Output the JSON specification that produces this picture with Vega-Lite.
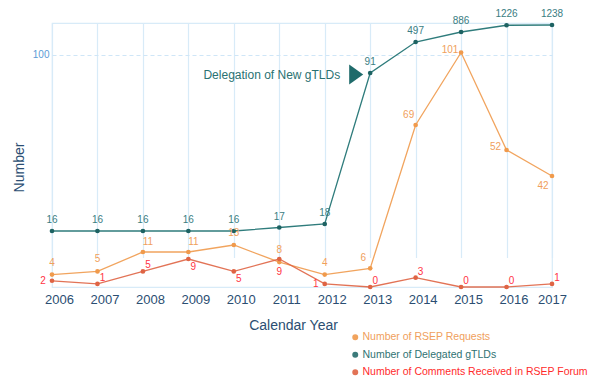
{
  "$schema": "https://vega.github.io/schema/vega-lite/v6.json",
  "autosize": "none",
  "width": 500,
  "height": 264,
  "padding": {"left": 52, "top": 23, "right": 48, "bottom": 95},
  "config": {
    "font": "Liberation Sans, Arial, sans-serif",
    "view": {"stroke": "#d8ebf8", "strokeWidth": 1.2}
  },
  "datasets": {
    "series": [
      {"year": 2006, "series": "Number of RSEP Requests", "value": 4},
      {"year": 2007, "series": "Number of RSEP Requests", "value": 5},
      {"year": 2008, "series": "Number of RSEP Requests", "value": 11},
      {"year": 2009, "series": "Number of RSEP Requests", "value": 11},
      {"year": 2010, "series": "Number of RSEP Requests", "value": 13},
      {"year": 2011, "series": "Number of RSEP Requests", "value": 8},
      {"year": 2012, "series": "Number of RSEP Requests", "value": 4},
      {"year": 2013, "series": "Number of RSEP Requests", "value": 6},
      {"year": 2014, "series": "Number of RSEP Requests", "value": 69},
      {"year": 2015, "series": "Number of RSEP Requests", "value": 101},
      {"year": 2016, "series": "Number of RSEP Requests", "value": 52},
      {"year": 2017, "series": "Number of RSEP Requests", "value": 42},
      {"year": 2006, "series": "Number of Delegated gTLDs", "value": 16},
      {"year": 2007, "series": "Number of Delegated gTLDs", "value": 16},
      {"year": 2008, "series": "Number of Delegated gTLDs", "value": 16},
      {"year": 2009, "series": "Number of Delegated gTLDs", "value": 16},
      {"year": 2010, "series": "Number of Delegated gTLDs", "value": 16},
      {"year": 2011, "series": "Number of Delegated gTLDs", "value": 17},
      {"year": 2012, "series": "Number of Delegated gTLDs", "value": 18},
      {"year": 2013, "series": "Number of Delegated gTLDs", "value": 91},
      {"year": 2014, "series": "Number of Delegated gTLDs", "value": 497},
      {"year": 2015, "series": "Number of Delegated gTLDs", "value": 886},
      {"year": 2016, "series": "Number of Delegated gTLDs", "value": 1226},
      {"year": 2017, "series": "Number of Delegated gTLDs", "value": 1238},
      {"year": 2006, "series": "Number of Comments Received in RSEP Forum", "value": 2},
      {"year": 2007, "series": "Number of Comments Received in RSEP Forum", "value": 1},
      {"year": 2008, "series": "Number of Comments Received in RSEP Forum", "value": 5},
      {"year": 2009, "series": "Number of Comments Received in RSEP Forum", "value": 9},
      {"year": 2010, "series": "Number of Comments Received in RSEP Forum", "value": 5},
      {"year": 2011, "series": "Number of Comments Received in RSEP Forum", "value": 9},
      {"year": 2012, "series": "Number of Comments Received in RSEP Forum", "value": 1},
      {"year": 2013, "series": "Number of Comments Received in RSEP Forum", "value": 0},
      {"year": 2014, "series": "Number of Comments Received in RSEP Forum", "value": 3},
      {"year": 2015, "series": "Number of Comments Received in RSEP Forum", "value": 0},
      {"year": 2016, "series": "Number of Comments Received in RSEP Forum", "value": 0},
      {"year": 2017, "series": "Number of Comments Received in RSEP Forum", "value": 1}
    ],
    "notes": [
      {"year": 2013, "value": 91, "note": "Delegation of New gTLDs"}
    ]
  },
  "data": {"name": "series"},
  "encoding": {
    "x": {
      "field": "year",
      "type": "ordinal",
      "scale": {"type": "point", "padding": 0},
      "axis": {
        "title": "Calendar Year",
        "titleFontSize": 14,
        "titleFontWeight": "normal",
        "titleColor": "#2b4e72",
        "titleX": 241,
        "titlePadding": 12,
        "labelAngle": 0,
        "labelFontSize": 13,
        "labelColor": "#2b4e72",
        "labelOffset": {"condition": {"test": "datum.value == 2017", "value": 0}, "value": 7},
        "labelPadding": 6,
        "ticks": false,
        "domain": false,
        "grid": true,
        "gridColor": "#d8ebf8",
        "gridWidth": 1.2
      }
    }
  },
  "layer": [
    {
      "transform": [{"filter": "datum.series != 'Number of Delegated gTLDs'"}],
      "mark": {"type": "line", "strokeWidth": 1.3, "opacity": 0.9},
      "encoding": {
        "y": {
          "field": "value", "type": "quantitative",
          "scale": {"domain": [0, 9, 13, 42, 52, 69, 101], "range": [264, 236, 222, 153, 127, 102, 29.5], "nice": false, "zero": false},
          "axis": {
            "title": "Number",
            "titleFontSize": 14,
            "titleFontWeight": "normal",
            "titleColor": "#2b4e72",
            "titleX": -33,
            "titleY": 144,
            "titleBaseline": "middle",
            "values": [100],
            "labelColor": "#5b9bd5",
            "labelFontSize": 10,
            "labelPadding": 3,
            "ticks": false,
            "domain": false,
            "grid": true,
            "gridDash": [4, 3],
            "gridColor": "#cfe6f7",
            "gridWidth": 1.2
          }
        },
        "color": {
          "field": "series", "type": "nominal",
          "scale": {
            "domain": ["Number of RSEP Requests", "Number of Delegated gTLDs", "Number of Comments Received in RSEP Forum"],
            "range": ["#f09a4c", "#276d6d", "#df6444"]
          },
          "legend": {
            "title": null,
            "orient": "none",
            "legendX": 298,
            "legendY": 309,
            "padding": 0,
            "symbolType": "circle",
            "symbolSize": 20,
            "labelFontSize": 10.5,
            "labelOffset": 2,
            "rowPadding": 6.5,
            "labelLimit": 400,
            "labelColor": {"expr": "datum.value === 'Number of RSEP Requests' ? '#f0a05c' : datum.value === 'Number of Delegated gTLDs' ? '#2f7272' : '#ff2b2b'"},
            "encode": {
              "symbols": {"update": {"fill": {"scale": "color", "field": "value"}, "strokeWidth": {"value": 0}, "shape": {"value": "circle"}}},
              "labels": {"update": {"fill": {"signal": "datum.value === 'Number of RSEP Requests' ? '#f0a05c' : datum.value === 'Number of Delegated gTLDs' ? '#2f7272' : '#ff2b2b'"}}}
            }
          }
        }
      }
    },
    {
      "transform": [{"filter": "datum.series != 'Number of Delegated gTLDs'"}],
      "mark": {"type": "point", "filled": true, "size": 22, "opacity": 1},
      "encoding": {
        "y": {
          "field": "value", "type": "quantitative",
          "scale": {"domain": [0, 9, 13, 42, 52, 69, 101], "range": [264, 236, 222, 153, 127, 102, 29.5], "nice": false, "zero": false},
          "axis": null
        },
        "color": {"field": "series", "type": "nominal"}
      }
    },
    {
      "transform": [{"filter": "datum.series == 'Number of Delegated gTLDs'"}],
      "mark": {"type": "line", "strokeWidth": 1.3, "color": "#2f7c7c"},
      "encoding": {
        "y": {
          "field": "value", "type": "quantitative",
          "scale": {"domain": [0, 16, 18, 91, 497, 886, 1238], "range": [264, 208, 201, 50, 19, 9, 2], "nice": false, "zero": false},
          "axis": null
        }
      }
    },
    {
      "transform": [{"filter": "datum.series == 'Number of Delegated gTLDs'"}],
      "mark": {"type": "point", "filled": true, "size": 22, "color": "#1d6262", "opacity": 1},
      "encoding": {
        "y": {
          "field": "value", "type": "quantitative",
          "scale": {"domain": [0, 16, 18, 91, 497, 886, 1238], "range": [264, 208, 201, 50, 19, 9, 2], "nice": false, "zero": false},
          "axis": null
        }
      }
    },
    {
      "transform": [{"filter": "datum.series == 'Number of Delegated gTLDs'"}],
      "mark": {"type": "text", "fontSize": 10, "color": "#3a7d82", "dy": -11},
      "encoding": {
        "y": {
          "field": "value", "type": "quantitative",
          "scale": {"domain": [0, 16, 18, 91, 497, 886, 1238], "range": [264, 208, 201, 50, 19, 9, 2], "nice": false, "zero": false},
          "axis": null
        },
        "text": {"field": "value", "type": "quantitative"}
      }
    },
    {
      "transform": [{"filter": "datum.series == 'Number of RSEP Requests' && indexof([2006, 2007, 2010, 2011, 2012], datum.year) >= 0"}],
      "mark": {"type": "text", "fontSize": 10, "color": "#f0a05c", "dy": -12},
      "encoding": {
        "y": {"field": "value", "type": "quantitative", "scale": {"domain": [0, 9, 13, 42, 52, 69, 101], "range": [264, 236, 222, 153, 127, 102, 29.5], "nice": false, "zero": false}, "axis": null},
        "text": {"field": "value", "type": "quantitative"}
      }
    },
    {
      "transform": [{"filter": "datum.series == 'Number of RSEP Requests' && indexof([2008, 2009], datum.year) >= 0"}],
      "mark": {"type": "text", "fontSize": 10, "color": "#f0a05c", "dx": 5, "dy": -10},
      "encoding": {
        "y": {"field": "value", "type": "quantitative", "scale": {"domain": [0, 9, 13, 42, 52, 69, 101], "range": [264, 236, 222, 153, 127, 102, 29.5], "nice": false, "zero": false}, "axis": null},
        "text": {"field": "value", "type": "quantitative"}
      }
    },
    {
      "transform": [{"filter": "datum.series == 'Number of RSEP Requests' && indexof([2013, 2014], datum.year) >= 0"}],
      "mark": {"type": "text", "fontSize": 10, "color": "#f0a05c", "dx": -7, "dy": -10},
      "encoding": {
        "y": {"field": "value", "type": "quantitative", "scale": {"domain": [0, 9, 13, 42, 52, 69, 101], "range": [264, 236, 222, 153, 127, 102, 29.5], "nice": false, "zero": false}, "axis": null},
        "text": {"field": "value", "type": "quantitative"}
      }
    },
    {
      "transform": [{"filter": "datum.series == 'Number of RSEP Requests' && indexof([2015, 2016], datum.year) >= 0"}],
      "mark": {"type": "text", "fontSize": 10, "color": "#f0a05c", "dx": -11, "dy": -3},
      "encoding": {
        "y": {"field": "value", "type": "quantitative", "scale": {"domain": [0, 9, 13, 42, 52, 69, 101], "range": [264, 236, 222, 153, 127, 102, 29.5], "nice": false, "zero": false}, "axis": null},
        "text": {"field": "value", "type": "quantitative"}
      }
    },
    {
      "transform": [{"filter": "datum.series == 'Number of RSEP Requests' && datum.year == 2017"}],
      "mark": {"type": "text", "fontSize": 10, "color": "#f0a05c", "dx": -9, "dy": 10},
      "encoding": {
        "y": {"field": "value", "type": "quantitative", "scale": {"domain": [0, 9, 13, 42, 52, 69, 101], "range": [264, 236, 222, 153, 127, 102, 29.5], "nice": false, "zero": false}, "axis": null},
        "text": {"field": "value", "type": "quantitative"}
      }
    },
    {
      "transform": [{"filter": "datum.series == 'Number of Comments Received in RSEP Forum' && indexof([2006, 2012], datum.year) >= 0"}],
      "mark": {"type": "text", "fontSize": 10, "color": "#ff3344", "dx": -9, "dy": 0},
      "encoding": {
        "y": {"field": "value", "type": "quantitative", "scale": {"domain": [0, 9, 13, 42, 52, 69, 101], "range": [264, 236, 222, 153, 127, 102, 29.5], "nice": false, "zero": false}, "axis": null},
        "text": {"field": "value", "type": "quantitative"}
      }
    },
    {
      "transform": [{"filter": "datum.series == 'Number of Comments Received in RSEP Forum' && indexof([2007, 2008, 2013, 2014, 2015, 2016, 2017], datum.year) >= 0"}],
      "mark": {"type": "text", "fontSize": 10, "color": "#ff3344", "dx": 5, "dy": -6},
      "encoding": {
        "y": {"field": "value", "type": "quantitative", "scale": {"domain": [0, 9, 13, 42, 52, 69, 101], "range": [264, 236, 222, 153, 127, 102, 29.5], "nice": false, "zero": false}, "axis": null},
        "text": {"field": "value", "type": "quantitative"}
      }
    },
    {
      "transform": [{"filter": "datum.series == 'Number of Comments Received in RSEP Forum' && indexof([2009, 2010], datum.year) >= 0"}],
      "mark": {"type": "text", "fontSize": 10, "color": "#ff3344", "dx": 5, "dy": 8},
      "encoding": {
        "y": {"field": "value", "type": "quantitative", "scale": {"domain": [0, 9, 13, 42, 52, 69, 101], "range": [264, 236, 222, 153, 127, 102, 29.5], "nice": false, "zero": false}, "axis": null},
        "text": {"field": "value", "type": "quantitative"}
      }
    },
    {
      "transform": [{"filter": "datum.series == 'Number of Comments Received in RSEP Forum' && datum.year == 2011"}],
      "mark": {"type": "text", "fontSize": 10, "color": "#ff3344", "dx": 0, "dy": 13},
      "encoding": {
        "y": {"field": "value", "type": "quantitative", "scale": {"domain": [0, 9, 13, 42, 52, 69, 101], "range": [264, 236, 222, 153, 127, 102, 29.5], "nice": false, "zero": false}, "axis": null},
        "text": {"field": "value", "type": "quantitative"}
      }
    },
    {
      "data": {"name": "notes"},
      "mark": {"type": "text", "fontSize": 12, "color": "#2a7272", "align": "right", "dx": -30, "dy": 2},
      "encoding": {
        "y": {"field": "value", "type": "quantitative", "scale": {"domain": [0, 16, 18, 91, 497, 886, 1238], "range": [264, 208, 201, 50, 19, 9, 2], "nice": false, "zero": false}, "axis": null},
        "text": {"field": "note", "type": "nominal"}
      }
    },
    {
      "data": {"name": "notes"},
      "mark": {"type": "point", "filled": true, "opacity": 1, "shape": "M-0.7,-1L0.7,0L-0.7,1Z", "size": 400, "color": "#1f6b6b", "xOffset": -14, "yOffset": 1.5},
      "encoding": {
        "y": {"field": "value", "type": "quantitative", "scale": {"domain": [0, 16, 18, 91, 497, 886, 1238], "range": [264, 208, 201, 50, 19, 9, 2], "nice": false, "zero": false}, "axis": null}
      }
    }
  ],
  "resolve": {"scale": {"y": "independent"}, "axis": {"y": "independent"}}
}
